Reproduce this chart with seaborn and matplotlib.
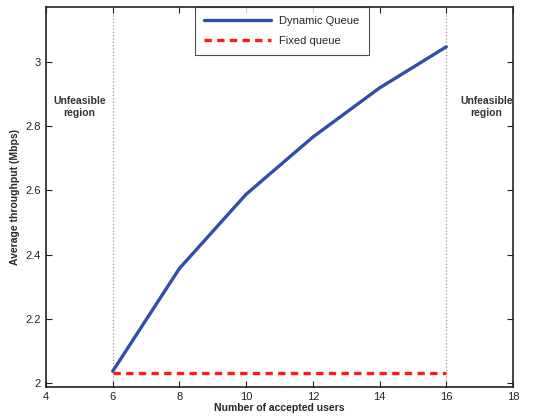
import numpy as np
import pandas as pd
import seaborn as sns
import matplotlib.pyplot as plt

# data
users = [6, 8, 10, 12, 14, 16]
dynamic_queue = [2.037, 2.357, 2.588, 2.766, 2.919, 3.047]
fixed_queue = [2.031, 2.031, 2.031, 2.031, 2.031, 2.031]

df = pd.DataFrame({
    "users": users * 2,
    "throughput": dynamic_queue + fixed_queue,
    "scheme": ["Dynamic Queue"] * len(users) + ["Fixed queue"] * len(users),
})

sns.set_style("ticks")
plt.rcParams['font.family'] = ['Liberation Sans', 'DejaVu Sans']

fig = plt.figure(figsize=(5.38, 4.18), dpi=100)
ax = fig.add_axes([0.0855, 0.0742, 0.868, 0.9091])

sns.lineplot(data=df, x="users", y="throughput", hue="scheme", style="scheme",
             palette={"Dynamic Queue": "#3050a8", "Fixed queue": "#ff1a1a"},
             dashes={"Dynamic Queue": "", "Fixed queue": (2.2, 1.6)},
             linewidth=2.4, ax=ax)

ax.axvline(6, color="#999999", linestyle=":", linewidth=0.9, zorder=0)
ax.axvline(16, color="#999999", linestyle=":", linewidth=0.9, zorder=0)

ax.text(5, 2.86, "Unfeasible\nregion", ha="center", va="center",
        fontsize=7.5, fontweight="bold", color="#333333")
ax.text(17.2, 2.86, "Unfeasible\nregion", ha="center", va="center",
        fontsize=7.5, fontweight="bold", color="#333333")

ax.set_xlim(4, 18)
ax.set_ylim(1.988, 3.171)
ax.set_xticks([4, 6, 8, 10, 12, 14, 16, 18])
ax.set_yticks([2, 2.2, 2.4, 2.6, 2.8, 3])
ax.set_yticklabels(["2", "2.2", "2.4", "2.6", "2.8", "3"])
ax.tick_params(direction="in", top=True, right=True, labelsize=8,
               colors="#222222", length=4, width=0.8)
ax.set_xlabel("Number of accepted users", fontsize=7.5, fontweight="bold",
              labelpad=1)
ax.set_ylabel("Average throughput (Mbps)", fontsize=7.5, fontweight="bold",
              labelpad=4)
for s in ax.spines.values():
    s.set_linewidth(1.2)
    s.set_color("#222222")

leg = ax.legend(loc="upper center", bbox_to_anchor=(0.505, 1.0), fontsize=8,
                frameon=True, fancybox=False, edgecolor="#222222",
                borderpad=0.8, handlelength=6, labelspacing=0.9,
                borderaxespad=0)
leg.get_frame().set_linewidth(0.8)

fig.savefig("out.png", dpi=100)
